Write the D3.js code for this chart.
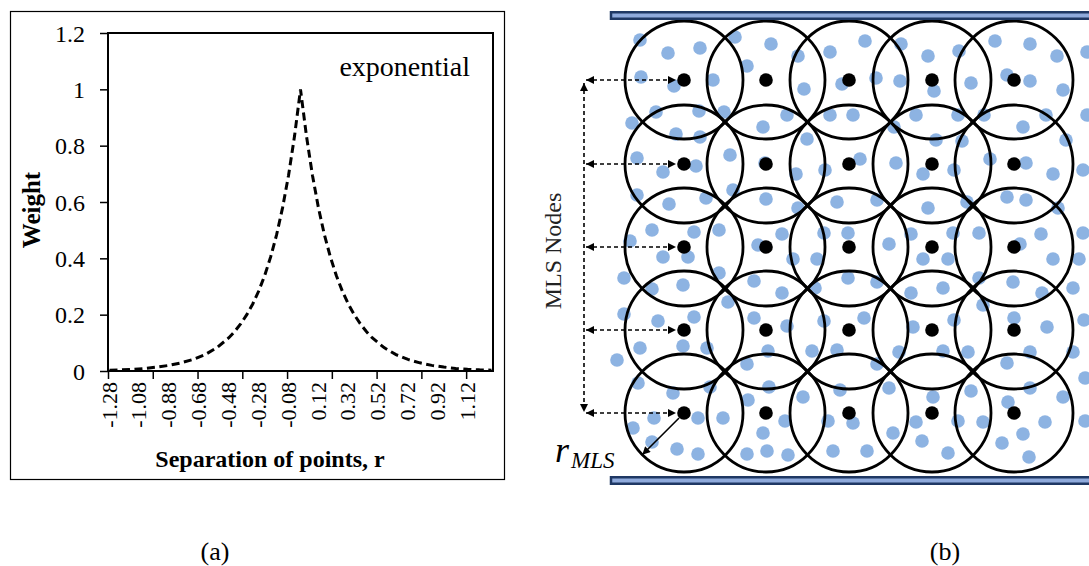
<!DOCTYPE html>
<html>
<head>
<meta charset="utf-8">
<script src="https://cdn.jsdelivr.net/npm/d3@7"></script>
<style>
	body { margin: 0; background: #fff; }
	svg { display: block; font-family: "Liberation Serif", "Times New Roman", serif; }
</style>
</head>
<body>
<div id="figure"></div>
<script>

// (a) exponential weight function
var separation = [-1.28, -1.20, -1.12, -1.04, -0.96, -0.88, -0.80, -0.72, -0.64, -0.56, -0.48, -0.44, -0.40, -0.36, -0.32, -0.28, -0.24, -0.20, -0.16, -0.12, -0.08, -0.04, 0,
	0.04, 0.08, 0.12, 0.16, 0.20, 0.24, 0.28, 0.32, 0.36, 0.40, 0.44, 0.48, 0.56, 0.64, 0.72, 0.80, 0.88, 0.96, 1.04, 1.12, 1.20, 1.28]

var weights = [0.003, 0.004, 0.006, 0.009, 0.014, 0.020, 0.029, 0.041, 0.058, 0.083, 0.118, 0.141, 0.168, 0.200, 0.238, 0.284, 0.339, 0.405, 0.484, 0.580, 0.695, 0.834, 1,
	0.834, 0.695, 0.580, 0.484, 0.405, 0.339, 0.284, 0.238, 0.200, 0.168, 0.141, 0.118, 0.083, 0.058, 0.041, 0.029, 0.020, 0.014, 0.009, 0.006, 0.004, 0.003]

var yTicks = [0, 0.2, 0.4, 0.6, 0.8, 1, 1.2]

var xLabelValues = [-1.28, -1.08, -0.88, -0.68, -0.48, -0.28, -0.08, 0.12, 0.32, 0.52, 0.72, 0.92, 1.12]

var xLabels = ["-1.28", "-1.08", "-0.88", "-0.68", "-0.48", "-0.28", "-0.08", "0.12", "0.32", "0.52", "0.72", "0.92", "1.12"]

var xTickMarks = [-1.29, -0.99, -0.69, -0.39, -0.09, 0.21, 0.51, 0.81, 1.11]

// (b) MLS nodes and particles, in sketch units
var nodeCols = [84, 166, 249, 332, 414]

var nodeRows = [65, 149, 232, 315, 398]

var influenceRadius = 59

var particles = [
	[40,25],[68,38],[100,33],[135,22],[171,29],[198,41],[230,37],[147,51],[41,62],[74,71],[113,65],[204,74],[242,69],
	[56,97],[99,96],[124,97],[32,108],[76,119],[100,122],[163,112],[187,100],[230,100],[207,124],[130,140],[37,143],
	[63,157],[96,151],[165,148],[196,159],[225,155],[133,175],[37,180],[69,189],[106,183],[166,184],[198,193],[237,187],
	[52,215],[94,217],[119,215],[30,226],[182,219],[158,230],[224,218],
	[265,26],[301,29],[328,41],[359,36],[395,26],[430,29],[457,41],[487,37],[276,63],[300,66],[334,76],[371,68],[407,60],
	[430,66],[463,75],[253,100],[316,100],[358,100],[384,100],[423,112],[446,100],[487,100],[294,112],[336,125],[362,126],
	[466,125],[260,144],[296,148],[323,159],[354,155],[390,144],[426,148],[453,159],[483,155],[277,185],[328,193],[367,187],
	[407,182],[426,185],[458,193],[248,218],[289,229],[311,219],[353,218],[379,218],[420,229],[441,219],[483,218],
	[63,242],[88,242],[24,263],[52,274],[83,270],[119,258],[154,266],[182,278],[215,273],[193,244],[217,244],[128,287],
	[24,299],[58,306],[94,302],[154,303],[187,311],[224,306],[40,333],[83,331],[107,333],[17,345],[168,336],[212,336],
	[237,335],[147,349],[38,368],[73,378],[110,372],[148,385],[169,372],[203,382],[240,375],[54,403],[98,403],[123,403],
	[33,413],[185,406],[228,406],[163,418],[52,427],[77,434],[98,439],[147,439],[167,436],[188,440],[233,436],
	[323,244],[348,244],[453,244],[479,244],[248,263],[277,267],[311,278],[343,273],[379,263],[413,267],[442,278],[473,273],
	[383,290],[264,303],[313,312],[354,305],[414,303],[447,312],[484,305],[277,349],[299,337],[343,336],[368,337],[407,348],
	[430,337],[473,337],[289,373],[333,382],[371,376],[408,387],[430,373],[463,382],[485,363],[253,408],[316,407],[358,406],
	[383,407],[445,407],[485,406],[293,418],[322,426],[402,428],[423,419],[267,436],[348,438],[429,442]
]

var svg = d3.select("#figure")
	.append("svg")
	.attr("width", 1089)
	.attr("height", 566)

svg.append("rect")
	.attr("width", 1089)
	.attr("height", 566)
	.attr("fill", "#fff")

var defs = svg.append("defs")

defs.append("marker")
	.attr("id", "head")
	.attr("viewBox", "0 0 10 10")
	.attr("refX", 10)
	.attr("refY", 5)
	.attr("markerWidth", 10)
	.attr("markerHeight", 8)
	.attr("markerUnits", "userSpaceOnUse")
	.attr("orient", "auto-start-reverse")
	.append("path")
	.attr("d", "M0,0L10,5L0,10Z")
	.attr("fill", "#000")

// ---------- (a) weight chart ----------

var plot = { left: 108, top: 33, right: 493, bottom: 371 }

var x = d3.scaleLinear()
	.domain([-1.29, 1.29])
	.range([plot.left, plot.right])

var y = d3.scaleLinear()
	.domain([0, 1.2])
	.range([plot.bottom, plot.top])

// chart area border
svg.append("rect")
	.attr("x", 10.5)
	.attr("y", 11.5)
	.attr("width", 494)
	.attr("height", 468)
	.attr("fill", "none")
	.attr("stroke", "#000")
	.attr("stroke-width", 1.2)

var yAxis = svg.append("g")
	.attr("transform", "translate(" + plot.left + ",0)")
	.call(d3.axisLeft(y).tickValues(yTicks).tickSize(8).tickPadding(15).tickFormat(d3.format("~g")))

yAxis.select(".domain").remove()
yAxis.selectAll("line").attr("stroke", "#000").attr("stroke-width", 1.5)
yAxis.selectAll("text")
	.attr("fill", "#000")
	.attr("dy", "0.34em")
	.style("font-size", "24px")
	.style("font-family", "Liberation Serif, Times New Roman, serif")

var xTickAxis = svg.append("g")
	.attr("transform", "translate(0," + plot.bottom + ")")
	.call(d3.axisBottom(x).tickValues(xTickMarks).tickSize(8).tickFormat(""))

xTickAxis.select(".domain").remove()
xTickAxis.selectAll("line").attr("stroke", "#000").attr("stroke-width", 1.5)

var xLabelAxis = svg.append("g")
	.attr("transform", "translate(0," + plot.bottom + ")")
	.call(d3.axisBottom(x).tickValues(xLabelValues).tickSize(0).tickFormat(function(d, i) { return xLabels[i] }))

xLabelAxis.select(".domain").remove()
xLabelAxis.selectAll("text")
	.attr("transform", "rotate(-90)")
	.attr("x", -11)
	.attr("y", 0)
	.attr("dy", "0.3em")
	.attr("fill", "#000")
	.style("text-anchor", "end")
	.style("font-size", "22px")
	.style("font-family", "Liberation Serif, Times New Roman, serif")

var line = d3.line()
	.x(function(d, i) { return x(separation[i]) })
	.y(function(d) { return y(d) })

svg.append("path")
	.datum(weights)
	.attr("d", line)
	.attr("fill", "none")
	.attr("stroke", "#000")
	.attr("stroke-width", 3)
	.attr("stroke-dasharray", "8,4.5")

// plot area border
svg.append("rect")
	.attr("x", plot.left)
	.attr("y", plot.top)
	.attr("width", plot.right - plot.left)
	.attr("height", plot.bottom - plot.top)
	.attr("fill", "none")
	.attr("stroke", "#000")
	.attr("stroke-width", 2)

svg.append("text")
	.attr("x", 470)
	.attr("y", 76)
	.attr("text-anchor", "end")
	.style("font-size", "28px")
	.text("exponential")

svg.append("text")
	.attr("transform", "translate(40,210) rotate(-90)")
	.attr("text-anchor", "middle")
	.style("font-size", "25px")
	.style("font-weight", "bold")
	.text("Weight")

svg.append("text")
	.attr("x", 270)
	.attr("y", 467)
	.attr("text-anchor", "middle")
	.style("font-size", "24px")
	.style("font-weight", "bold")
	.text("Separation of points, r")

// ---------- (b) MLS node layout ----------

var sx = d3.scaleLinear().domain([0, 490]).range([600, 1090])

var sy = d3.scaleLinear().domain([0, 470]).range([15, 485])

var diagram = svg.append("g")

diagram.selectAll(".particle")
	.data(particles)
	.enter()
	.append("circle")
	.attr("class", "particle")
	.attr("cx", function(d) { return sx(d[0]) })
	.attr("cy", function(d) { return sy(d[1]) })
	.attr("r", 6.8)
	.attr("fill", "#8db3e2")

var nodes = []

nodeRows.forEach(function(row) {
	nodeCols.forEach(function(col) {
		nodes.push({ x: col, y: row })
	})
})

var radiusPx = sx(influenceRadius) - sx(0)

diagram.selectAll(".support")
	.data(nodes)
	.enter()
	.append("circle")
	.attr("class", "support")
	.attr("cx", function(d) { return sx(d.x) })
	.attr("cy", function(d) { return sy(d.y) })
	.attr("r", radiusPx)
	.attr("fill", "none")
	.attr("stroke", "#000")
	.attr("stroke-width", 2.8)

diagram.selectAll(".node")
	.data(nodes)
	.enter()
	.append("circle")
	.attr("class", "node")
	.attr("cx", function(d) { return sx(d.x) })
	.attr("cy", function(d) { return sy(d.y) })
	.attr("r", 6.8)
	.attr("fill", "#000")

// walls
var walls = [-4, 461]

diagram.selectAll(".wall")
	.data(walls)
	.enter()
	.append("rect")
	.attr("class", "wall")
	.attr("x", sx(11))
	.attr("y", function(d) { return sy(d) + 1.25 })
	.attr("width", sx(500) - sx(11))
	.attr("height", 6.5)
	.attr("fill", "#8faadc")
	.attr("stroke", "#1f3864")
	.attr("stroke-width", 2.5)

// dimension arrows
var guideX = -16

diagram.selectAll(".pointer")
	.data(nodeRows)
	.enter()
	.append("line")
	.attr("class", "pointer")
	.attr("x1", sx(guideX + 2))
	.attr("y1", function(d) { return sy(d) })
	.attr("x2", sx(nodeCols[0] - 8))
	.attr("y2", function(d) { return sy(d) })
	.attr("stroke", "#000")
	.attr("stroke-width", 1.6)
	.attr("stroke-dasharray", "4,3")
	.attr("marker-start", "url(#head)")
	.attr("marker-end", "url(#head)")

diagram.append("line")
	.attr("x1", sx(guideX))
	.attr("y1", sy(nodeRows[0]) + 3)
	.attr("x2", sx(guideX))
	.attr("y2", sy(nodeRows[nodeRows.length - 1]) - 1)
	.attr("stroke", "#000")
	.attr("stroke-width", 1.6)
	.attr("stroke-dasharray", "4,3")
	.attr("marker-start", "url(#head)")
	.attr("marker-end", "url(#head)")

// radius arrow
var last = nodes[20]
var angle = Math.PI * 0.75

diagram.append("line")
	.attr("x1", sx(last.x + 7 * Math.cos(angle)))
	.attr("y1", sy(last.y + 7 * Math.sin(angle)))
	.attr("x2", sx(last.x + influenceRadius * Math.cos(angle)))
	.attr("y2", sy(last.y + influenceRadius * Math.sin(angle)))
	.attr("stroke", "#000")
	.attr("stroke-width", 1.6)
	.attr("marker-end", "url(#head)")

var rLabel = diagram.append("text")
	.attr("x", 555)
	.attr("y", 462)
	.style("font-style", "italic")

rLabel.append("tspan")
	.style("font-size", "36px")
	.text("r")

rLabel.append("tspan")
	.attr("dy", 6)
	.attr("dx", 2)
	.style("font-size", "23px")
	.text("MLS")

diagram.append("text")
	.attr("transform", "translate(561,251) rotate(-90)")
	.attr("text-anchor", "middle")
	.attr("fill", "#222")
	.style("font-size", "24px")
	.text("MLS Nodes")

// captions
svg.append("text")
	.attr("x", 215)
	.attr("y", 560)
	.attr("text-anchor", "middle")
	.style("font-size", "26px")
	.text("(a)")

svg.append("text")
	.attr("x", 945)
	.attr("y", 560)
	.attr("text-anchor", "middle")
	.style("font-size", "26px")
	.text("(b)")

</script>
</body>
</html>
